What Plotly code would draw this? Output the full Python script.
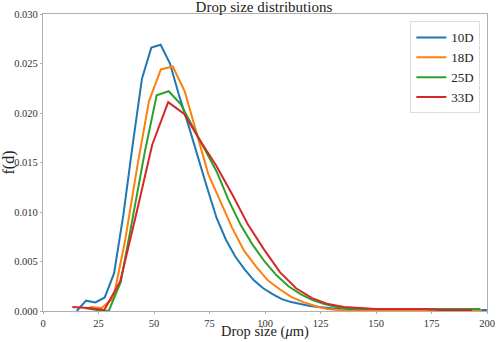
import plotly.graph_objects as go

# drop size (um) and f(d) for each station
d_10D = [15.2 + 4.2 * k for k in range(45)]
f_10D = [0.0000, 0.00104, 0.00087, 0.00137, 0.0038, 0.0097, 0.0168, 0.0235, 0.0266, 0.0269,
         0.0250, 0.0217, 0.0187, 0.0155, 0.0124, 0.0094, 0.0072, 0.0055, 0.0042, 0.0031,
         0.0023, 0.0017, 0.0012, 0.0009, 0.0007, 0.0005, 0.0004, 0.0003, 0.0002, 0.0002,
         0.0002, 0.0002, 0.0001, 0.0001, 0.0001, 0.0001, 0.0001, 0.0001, 0.0001, 0.0001,
         0.0001, 0.0001, 0.0001, 0.0001, 0.0001]

d_18D = [21.0 + 5.35 * k for k in range(34)]
f_18D = [0.0004, 0.0003, 0.0013, 0.0072, 0.0145, 0.0212, 0.0244, 0.0247, 0.0222, 0.0180,
         0.0138, 0.0111, 0.0084, 0.0061, 0.0045, 0.0031, 0.0022, 0.0014, 0.0009, 0.0005,
         0.0002, 0.0001, 0.0001, 0.0001, 0.0001, 0.0001, 0.0001, 0.0001, 0.0001, 0.0001,
         0.0001, 0.0001, 0.0001, 0.0001]

d_25D = [18.8 + 5.4 * k for k in range(34)]
f_25D = [0.0003, 0.0001, 0.0000, 0.0029, 0.0094, 0.0160, 0.0218, 0.0222, 0.0209, 0.0186,
         0.0163, 0.0141, 0.0112, 0.0087, 0.0067, 0.0050, 0.0036, 0.0025, 0.0017, 0.0011,
         0.0007, 0.0004, 0.0002, 0.0002, 0.0002, 0.0002, 0.0002, 0.0002, 0.0002, 0.0002,
         0.0002, 0.0002, 0.0002, 0.0002]

d_33D = [13.2 + 7.2 * k for k in range(26)]
f_33D = [0.0004, 0.0003, 0.0001, 0.0030, 0.0098, 0.0168, 0.0211, 0.0199, 0.0172, 0.0147,
         0.0118, 0.0087, 0.0062, 0.0039, 0.0023, 0.0013, 0.0007, 0.0004, 0.0003, 0.0002,
         0.0002, 0.0002, 0.0002, 0.0001, 0.0001, 0.0001]

series = [
    ("10D", d_10D, f_10D, "#1f77b4"),
    ("18D", d_18D, f_18D, "#ff7f0e"),
    ("25D", d_25D, f_25D, "#2ca02c"),
    ("33D", d_33D, f_33D, "#d62728"),
]

font = "Liberation Serif, DejaVu Serif, serif"

fig = go.Figure()
for name, x, y, color in series:
    fig.add_trace(go.Scatter(x=x, y=y, mode="lines", name=name,
                             line=dict(color=color, width=2)))

axis_style = dict(
    showgrid=False, zeroline=False, showline=True, mirror=True,
    linecolor="#b0b0b0", linewidth=1.2, ticks="outside", ticklen=2,
    tickcolor="#b0b0b0", tickfont=dict(family=font, size=10.5, color="#333"),
    automargin=False,
)

fig.update_xaxes(range=[0, 200], tickvals=[0, 25, 50, 75, 100, 125, 150, 175, 200],
                 **axis_style)
fig.update_yaxes(range=[0, 0.03], tickvals=[0, 0.005, 0.01, 0.015, 0.02, 0.025, 0.03],
                 tickformat=".3f",
                 title=dict(text="f(d)", standoff=2,
                            font=dict(family=font, size=16, color="#222")),
                 **axis_style)

# x-axis title placed as an annotation so it sits just under the tick labels
fig.add_annotation(text="Drop size (<i>μ</i>m)", xref="paper", yref="paper",
                   x=0.5, y=-0.104, xanchor="center", yanchor="bottom",
                   showarrow=False, font=dict(family=font, size=14.5, color="#222"))

fig.update_layout(
    width=498, height=342,
    margin=dict(l=43, r=11, t=14, b=31),
    paper_bgcolor="white", plot_bgcolor="white",
    title=dict(text="Drop size distributions", x=0.53, xanchor="center",
               y=0.995, yanchor="top",
               font=dict(family=font, size=15, color="#222")),
    legend=dict(x=0.985, y=0.975, xanchor="right", yanchor="top",
                bordercolor="#dddddd", borderwidth=1, bgcolor="rgba(255,255,255,0.8)",
                font=dict(family=font, size=13, color="#222"),
                itemwidth=30),
    showlegend=True,
)

fig.write_html("out.html", config={"displayModeBar": False},
               post_script="document.body.style.margin='0';")
